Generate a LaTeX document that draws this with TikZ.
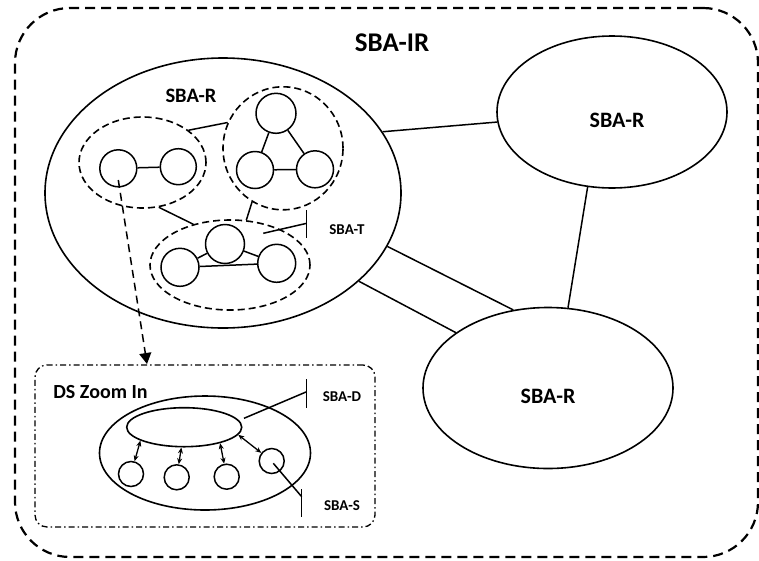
\documentclass[tikz,border=0pt]{standalone}
\usepackage{fontspec}
\setmainfont{Carlito}
\usetikzlibrary{shapes.geometric,arrows.meta}
\begin{document}
\begin{tikzpicture}[x=1pt,y=-1pt,
  ell/.style={draw, ellipse, inner sep=0pt, line width=1.6pt},
  dell/.style={draw, ellipse, inner sep=0pt, line width=1.6pt, dash pattern=on 7pt off 4pt},
  circ/.style={draw, circle, inner sep=0pt, line width=1.5pt},
  lbl/.style={font=\bfseries, inner sep=0pt},
  link/.style={line width=1.5pt},
  tiparrow/.style={line width=1.3pt, {Stealth[length=6pt,width=5pt]}-{Stealth[length=6pt,width=5pt]}},
]
\useasboundingbox (0,0) rectangle (759,560);

% outer SBA-IR region
\node[draw, rounded corners=55pt, minimum width=743pt, minimum height=549pt,
      line width=2.2pt, dash pattern=on 10pt off 6pt, inner sep=0pt] (ir) at (386.5,282.5) {};
\node[lbl, font=\fontsize{27}{30}\selectfont\bfseries] (irlbl) at (392,43) {SBA-IR};

% three SBA-R regions
\node[ell, minimum width=356pt, minimum height=270pt] (big) at (223,193) {};
\node[ell, minimum width=230pt, minimum height=152pt] (rr) at (612,112) {};
\node[ell, minimum width=250pt, minimum height=161pt] (br) at (548,388) {};
\node[lbl, font=\fontsize{20.5}{24}\selectfont\bfseries] (biglbl) at (191,96) {SBA-R};
\node[lbl, font=\fontsize{22}{26}\selectfont\bfseries] (rrlbl) at (617,120) {SBA-R};
\node[lbl, font=\fontsize{22}{26}\selectfont\bfseries] (brlbl) at (548,396) {SBA-R};

\draw[link] (big.21) -- (rr.185);
\draw[link] (rr.252) -- (br.76);
\draw[link] (big.342) -- (br.114);
\draw[link] (big.327) -- (br.149);

% groups inside the big SBA-R
\node[dell, minimum width=127pt, minimum height=91pt] (ga) at (142.5,162.5) {};
\node[dell, minimum width=120pt, minimum height=123pt] (gb) at (283,148.3) {};
\node[dell, minimum width=160pt, minimum height=90pt] (gc) at (230,265) {};

\node[circ, minimum size=37pt] (a1) at (118.3,168.3) {};
\node[circ, minimum size=36pt] (a2) at (178.3,166.7) {};
\draw[link] (a1) -- (a2);

\node[circ, minimum size=40pt] (b1) at (276,113.3) {};
\node[circ, minimum size=37pt] (b2) at (255,170) {};
\node[circ, minimum size=37pt] (b3) at (315,169.3) {};
\draw[link] (b1) -- (b2);
\draw[link] (b1) -- (b3);
\draw[link] (b2) -- (b3);

\node[circ, minimum size=39pt] (c1) at (225,244) {};
\node[circ, minimum size=38pt] (c2) at (180,267.3) {};
\node[circ, minimum size=38pt] (c3) at (276.7,263.3) {};
\draw[link] (c1) -- (c2);
\draw[link] (c1) -- (c3);
\draw[link] (c2) -- (c3);

\draw[link] (ga.35) -- (gb.155);
\draw[link] (ga.290) -- (gc.132);
\draw[link] (gb.240) -- (gc.70);

% SBA-T annotation
\coordinate (tS) at (263.3,233.3);
\coordinate (tE) at (306.7,223.3);
\draw[link] (tS) -- (tE);
\draw[link] (306.7,210) -- (306.7,238.3);
\node[lbl, font=\fontsize{15}{17}\selectfont\bfseries] (tlbl) at (347,229.3) {SBA-T};

% zoom-in box
\node[draw, rounded corners=12pt, minimum width=340pt, minimum height=162pt, inner sep=0pt,
      line width=1.3pt, dash pattern=on 6pt off 3pt on 1.5pt off 3pt] (ds) at (205,446) {};
\node[lbl, font=\fontsize{20}{24}\selectfont\bfseries] (dslbl) at (100.5,392) {DS Zoom In};

\coordinate (zS) at (118.3,180);
\coordinate (zE) at (147,364);
\draw[line width=1.5pt, dash pattern=on 8pt off 5pt, -{Triangle[length=11pt,width=12pt]}] (zS) -- (zE);

\node[ell, minimum width=211pt, minimum height=114pt] (dout) at (205,453) {};
\node[ell, minimum width=115pt, minimum height=39pt] (din) at (184.2,427.2) {};
\node[circ, minimum size=25pt] (s1) at (131,474) {};
\node[circ, minimum size=25pt] (s2) at (176.7,477.3) {};
\node[circ, minimum size=25pt] (s3) at (226.7,476.7) {};
\node[circ, minimum size=25pt] (s4) at (271.7,461) {};

\draw[tiparrow] (din.197.6) -- (s1);
\draw[tiparrow] (din.262) -- (s2);
\draw[tiparrow] (din.336.6) -- (s3);
\draw[tiparrow] (din.352.7) -- (s4);

% SBA-D annotation
\coordinate (dS) at (244,418.3);
\coordinate (dE) at (306.7,391.7);
\draw[link] (dS) -- (dE);
\draw[link] (306.7,379.3) -- (306.7,408.3);
\node[lbl, font=\fontsize{15}{17}\selectfont\bfseries] (dlbl) at (342,396.7) {SBA-D};

% SBA-S annotation
\coordinate (sS) at (273.3,463.3);
\coordinate (sE) at (301.7,496.7);
\draw[link] (sS) -- (sE);
\draw[link] (301.7,489.3) -- (301.7,517.3);
\node[lbl, font=\fontsize{15}{17}\selectfont\bfseries] (slbl) at (342,506) {SBA-S};

\end{tikzpicture}
\end{document}
